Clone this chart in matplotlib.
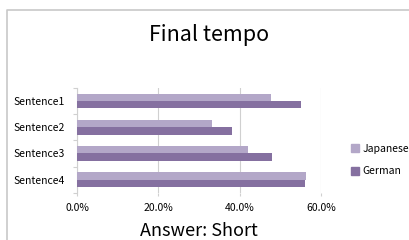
import numpy as np
import matplotlib
matplotlib.use("Agg")
import matplotlib.pyplot as plt
from matplotlib.lines import Line2D
from matplotlib.patches import Patch
from matplotlib.ticker import PercentFormatter

plt.rcParams['font.family'] = ['Noto Sans CJK JP', 'DejaVu Sans']

sentences = ["Sentence1", "Sentence2", "Sentence3", "Sentence4"]
japanese = [0.477, 0.333, 0.420, 0.562]
german = [0.551, 0.382, 0.479, 0.561]

c_jp = "#B3A7C8"
c_de = "#8570A0"
grey = "#D0D0D0"

fig = plt.figure(figsize=(4.09, 2.40), dpi=100)
ax = fig.add_axes([77 / 409, 47.3 / 240, 244 / 409, 104.7 / 240])

y = np.arange(len(sentences))
h = 0.28
ax.barh(y - h / 2, japanese, height=h, color=c_jp, label="Japanese", zorder=3)
ax.barh(y + h / 2, german, height=h, color=c_de, label="German", zorder=3)

ax.set_xlim(0, 0.6)
ax.set_ylim(3.5, -0.5)
ax.set_xticks([0, 0.2, 0.4, 0.6])
ax.xaxis.set_major_formatter(PercentFormatter(1.0, decimals=1))
ax.set_yticks(y)
ax.set_yticklabels(sentences)
ax.set_yticks(np.arange(-0.5, 4, 1), minor=True)

ax.grid(axis="x", color=grey, linewidth=0.8, zorder=0)
for s in ["top", "right", "bottom"]:
    ax.spines[s].set_visible(False)
ax.spines["left"].set_color(grey)
ax.spines["left"].set_linewidth(0.8)

ax.tick_params(axis="y", which="major", length=0, pad=9, labelsize=7.5)
ax.tick_params(axis="y", which="minor", length=3, color=grey, width=0.8)
ax.tick_params(axis="x", length=2.5, color=grey, width=0.8, labelsize=7.5, pad=5)

ax.set_xlabel("Answer: Short", fontsize=13, labelpad=6.5)
fig.text(209 / 409, 1 - 35 / 240, "Final tempo", fontsize=15.5,
         ha="center", va="center")

handles = [Patch(color=c_jp), Patch(color=c_de)]
fig.legend(handles, ["Japanese", "German"], loc="center left",
           bbox_to_anchor=(351 / 409, 1 - 160 / 240), frameon=False,
           fontsize=7.5, handlelength=0.8, handleheight=0.8,
           handletextpad=0.3, labelspacing=1.2,
           borderpad=0, borderaxespad=0)

# outer chart frame
fig.add_artist(Line2D([7 / 409, 7 / 409, 1.0], [0.0, 1 - 10 / 240, 1 - 10 / 240],
                      transform=fig.transFigure, color="#C8C8C8", linewidth=1.2))

fig.savefig("out.png", dpi=100)
